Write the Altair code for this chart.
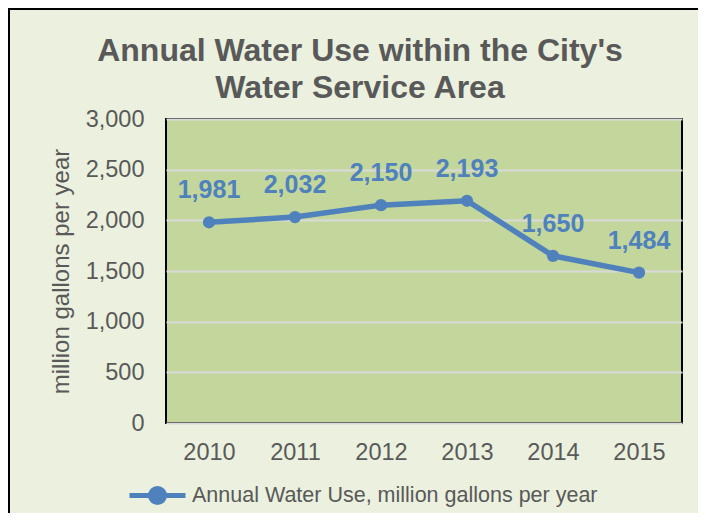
import altair as alt
import pandas as pd

years = ["2010", "2011", "2012", "2013", "2014", "2015"]
use = [1981, 2032, 2150, 2193, 1650, 1484]
series_name = "Annual Water Use, million gallons per year"
y_ticks = [0, 500, 1000, 1500, 2000, 2500, 3000]

df = pd.DataFrame({"year": years, "use": use, "series": [series_name] * len(years)})

FONT = "Liberation Sans"
GRAY = "#595959"
BLUE = "#4F81BD"
PLOT_BG = "#C3D69B"
OUTER_BG = "#EBF1DE"

x_enc = alt.X(
    "year:O",
    scale=alt.Scale(type="point", padding=0.5),
    axis=alt.Axis(title=None, labelAngle=0, labelFontSize=23.5, labelColor=GRAY,
                  labelFont=FONT, labelPadding=17, ticks=False, domain=False, grid=False),
)
y_enc = alt.Y(
    "use:Q",
    scale=alt.Scale(domain=[0, 3000], nice=False),
    axis=alt.Axis(values=y_ticks, format=",.0f", labelFontSize=23.5, labelColor=GRAY,
                  labelFont=FONT, labelPadding=22, ticks=False, domain=False,
                  grid=True, gridColor="#D9D9D9", gridWidth=2,
                  title="million gallons per year", titleFontSize=24, titleFont=FONT,
                  titleFontWeight="normal", titleColor=GRAY, titleAngle=-90,
                  titleX=-98, titleY=152, titleAlign="center", titleBaseline="alphabetic"),
)

base = alt.Chart(df).encode(x=x_enc, y=y_enc)

line = base.mark_line(strokeWidth=5.5).encode(
    color=alt.Color(
        "series:N",
        scale=alt.Scale(range=[BLUE]),
        legend=alt.Legend(
            title=None, orient="none", legendX=-39, legendY=346, padding=0,
            symbolType="M-1,0L1,0M0.25,0A0.25,0.25,0,1,1,-0.25,0A0.25,0.25,0,1,1,0.25,0Z",
            symbolSize=3136, symbolStrokeWidth=5, symbolFillColor=BLUE,
            symbolStrokeColor=BLUE, symbolOpacity=1, labelFontSize=21.5,
            labelFont=FONT, labelColor=GRAY, labelOffset=4, labelLimit=600,
        ),
    )
)
points = base.mark_circle(size=150, opacity=1, color=BLUE)
labels = base.mark_text(dy=-24, fontSize=25, fontWeight="bold", color=BLUE,
                        font=FONT, baseline="alphabetic").encode(
    text=alt.Text("use:Q", format=",")
)

frame_data = pd.DataFrame({"k": [0]})
frame_left = alt.Chart(frame_data).mark_rule(color="black", strokeWidth=2).encode(
    x=alt.value(-157), y=alt.value(-110), y2=alt.value(400)
)
frame_top = alt.Chart(frame_data).mark_rule(color="black", strokeWidth=2).encode(
    x=alt.value(-158), x2=alt.value(540), y=alt.value(-110)
)

chart = alt.layer(frame_left, frame_top, line, points, labels).properties(
    width=516,
    height=304,
    title=alt.TitleParams(
        text=["Annual Water Use within the City's", "Water Service Area"],
        fontSize=32, font=FONT, fontWeight="bold", color=GRAY,
        anchor="middle", frame="group", dx=-64, dy=111, lineHeight=37, offset=14,
    ),
    autosize=alt.AutoSizeParams(type="none"),
    padding={"left": 158, "top": 111, "right": 16, "bottom": 90},
    background=OUTER_BG,
).configure_view(
    fill=PLOT_BG, stroke="black", strokeWidth=2
)

chart.save("out.html", embed_options={"renderer": "svg", "actions": False})
